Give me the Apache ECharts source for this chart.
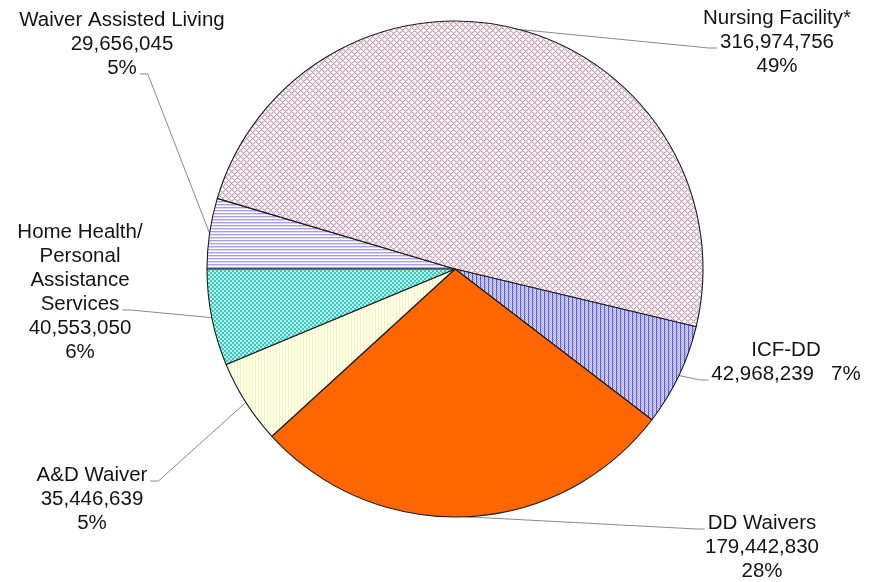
<!DOCTYPE html>
<html>
<head>
<meta charset="utf-8">
<script src="https://cdn.jsdelivr.net/npm/echarts@6/dist/echarts.min.js"></script>
<style>
  html, body { margin: 0; padding: 0; background: #ffffff; }
  #chart { width: 869px; height: 582px; }
</style>
</head>
<body>
<div id="chart"></div>
<script>
// Long-term care spending by program (clockwise from 9 o'clock)
const categories = [
  'Waiver Assisted Living',
  'Nursing Facility*',
  'ICF-DD',
  'DD Waivers',
  'A&D Waiver',
  'Home Health/\nPersonal\nAssistance\nServices'
];
const amounts = [29656045, 316974756, 42968239, 179442830, 35446639, 40553050];

// Label block placement: top-centre anchor, which line the leader attaches to, and on which side
const labelAnchors = [
  [122, 8], [777, 6], [786, 338], [762, 511], [92, 463], [80, 220]
];
const leaderLine = [2, 1, 1, 0, 0, 3];
const leaderSide = ['right', 'left', 'left', 'left', 'right', 'right'];

const CX = 455, CY = 269, R = 248;
const FONT_SIZE = 20.5, LINE_H = 24;
const FONT_FAMILY = 'Liberation Sans, Arial, sans-serif';

function makePattern(w, h, draw) {
  const c = document.createElement('canvas');
  c.width = w; c.height = h;
  const g = c.getContext('2d');
  draw(g, w, h);
  return { image: c, repeat: 'repeat' };
}

// Fill patterns for each slice
const fills = [
  // horizontal lavender lines
  makePattern(4, 3, (g, w, h) => {
    g.fillStyle = '#ffffff'; g.fillRect(0, 0, w, h);
    g.fillStyle = '#a69eea'; g.fillRect(0, 0, w, 1);
    g.fillStyle = '#dcd8f7'; g.fillRect(0, 1, w, 1);
  }),
  // mauve diagonal lattice
  makePattern(6, 6, (g, w, h) => {
    for (let y = 0; y < h; y++) {
      for (let x = 0; x < w; x++) {
        const d1 = (x + y) % 6, d2 = (x - y + 6) % 6;
        let col = '#fdf7fa';
        if (d1 === 0 || d2 === 0) col = '#c49db3';
        else if (d1 === 1 || d2 === 1) col = '#ead9e2';
        g.fillStyle = col; g.fillRect(x, y, 1, 1);
      }
    }
  }),
  // blue vertical stripes with dotted texture
  makePattern(4, 2, (g, w, h) => {
    g.fillStyle = '#dcdcf8'; g.fillRect(0, 0, w, h);
    g.fillStyle = '#5c5cdc'; g.fillRect(0, 0, 1, 2);
    g.fillStyle = '#9c9cec'; g.fillRect(2, 0, 1, 1); g.fillRect(1, 1, 1, 1);
    g.fillStyle = '#bcbcf3'; g.fillRect(3, 1, 1, 1);
  }),
  // solid orange
  '#ff6600',
  // pale yellow with faint stripes
  makePattern(3, 3, (g, w, h) => {
    g.fillStyle = '#ffffe4'; g.fillRect(0, 0, w, h);
    g.fillStyle = '#f2f2cf'; g.fillRect(0, 0, 1, h);
  }),
  // teal checkerboard
  makePattern(4, 4, (g, w, h) => {
    g.fillStyle = '#3cc8be'; g.fillRect(0, 0, w, h);
    g.fillStyle = '#b4eee9';
    g.fillRect(0, 0, 2, 2); g.fillRect(2, 2, 2, 2);
  })
];

const total = amounts.reduce((a, b) => a + b, 0);

function fmt(n) { return n.toLocaleString('en-US'); }
function labelText(name, value) {
  const pct = Math.round(value / total * 100) + '%';
  if (name === 'ICF-DD') return name + '\n' + fmt(value) + '   ' + pct;
  return name + '\n' + fmt(value) + '\n' + pct;
}

// Text measurement for attaching leader lines to a given text line
const measureCtx = document.createElement('canvas').getContext('2d');
measureCtx.font = FONT_SIZE + 'px ' + FONT_FAMILY;

// Mid-angle of each slice on the rim (start at 180 deg, clockwise)
const midAngles = [];
{
  let acc = 0;
  amounts.forEach((v) => {
    const frac = (acc + v / 2) / total;
    midAngles.push((180 - 360 * frac) * Math.PI / 180);
    acc += v;
  });
}

const pieData = categories.map((name, i) => ({
  name: name,
  value: amounts[i],
  itemStyle: { color: fills[i] }
}));

const chart = echarts.init(document.getElementById('chart'), null, { renderer: 'canvas' });
chart.setOption({
  animation: false,
  backgroundColor: '#ffffff',
  series: [{
    type: 'pie',
    center: [CX, CY],
    radius: [0, R],
    startAngle: 180,
    clockwise: true,
    avoidLabelOverlap: false,
    data: pieData,
    itemStyle: { borderColor: '#1e1e1e', borderWidth: 1.1 },
    label: {
      show: true,
      position: 'outside',
      fontFamily: FONT_FAMILY,
      fontSize: FONT_SIZE,
      lineHeight: LINE_H,
      color: '#141414',
      align: 'center',
      formatter: (p) => labelText(p.name, p.value)
    },
    labelLine: {
      show: true,
      length: 10,
      length2: 10,
      smooth: false,
      lineStyle: { color: '#8a8a8a', width: 1 }
    },
    labelLayout: (params) => {
      const i = params.dataIndex;
      const a = labelAnchors[i];
      const lines = labelText(categories[i], amounts[i]).split('\n');
      const k = leaderLine[i];
      const w = measureCtx.measureText(lines[k]).width;
      const ly = a[1] + LINE_H * (k + 0.5) + 6;
      const side = leaderSide[i] === 'right' ? 1 : -1;
      const lx = a[0] + side * (w / 2 + 3);
      const ex = lx + side * 8;
      const rim = [CX + R * Math.cos(midAngles[i]), CY - R * Math.sin(midAngles[i])];
      return {
        x: a[0], y: a[1], align: 'center', verticalAlign: 'top',
        labelLinePoints: [rim, [ex, ly], [lx, ly]]
      };
    },
    emphasis: { disabled: true }
  }]
});
</script>
</body>
</html>
